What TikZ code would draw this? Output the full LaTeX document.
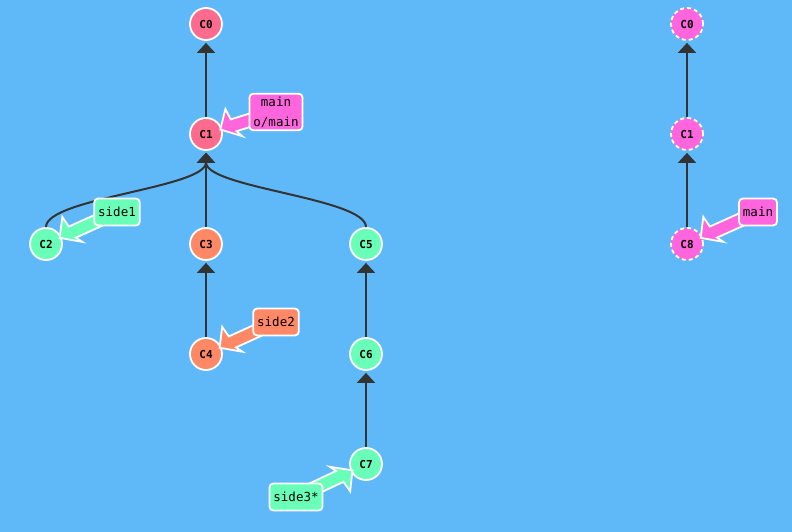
\documentclass[tikz,border=0pt]{standalone}
\usepackage{fontspec}
\setmonofont{DejaVu Sans Mono}
\usetikzlibrary{
  arrows.meta,
  calc,
  backgrounds
}
\definecolor{gitsky}{HTML}{5FB9F9}
\definecolor{gitpink}{HTML}{FF6A8F}
\definecolor{gitmint}{HTML}{6AFFB8}
\definecolor{gitcoral}{HTML}{FF8966}
\definecolor{gitmagenta}{HTML}{FF66DD}
\definecolor{gitdark}{HTML}{333333}
\pgfdeclarelayer{tagarrows}
\pgfdeclarelayer{tags}
\pgfsetlayers{background,main,tagarrows,tags}

% fat arrow from a branch tag (#1) to its commit (#2), colour #3
\newcommand{\tagarrow}[3]{%
  \coordinate (tip) at ($(#2.center)!15pt!(#1.center)$);
  \coordinate (neckl) at ($(tip)!13pt!(#1.center)$);
  \coordinate (neckr) at ($(tip)!15pt!(#1.center)$);
  \coordinate (barbl) at ($(tip)!11pt!(#1.center)$);
  \coordinate (barbr) at ($(tip)!19pt!(#1.center)$);
  \filldraw[fill=#3, draw=white, line width=1.8pt, line join=miter]
    ($(#1.center)!6.5pt!-90:(tip)$) -- ($(neckl)!6.5pt!-90:(tip)$)
    -- ($(barbl)!18pt!-90:(tip)$) -- (tip)
    -- ($(barbr)!13pt!90:(tip)$) -- ($(neckr)!6.5pt!90:(tip)$)
    -- ($(#1.center)!6.5pt!90:(tip)$) -- cycle;
}

\begin{document}
\begin{tikzpicture}[
      x=1pt, y=-1pt,
      commit/.style={
        circle, minimum size=32pt, inner sep=0pt,
        draw=white, line width=1.8pt,
        font=\fontsize{11}{12}\selectfont\ttfamily\bfseries
      },
      ghost/.style={commit, dash pattern=on 4pt off 3pt},
      tag/.style={
        rectangle, rounded corners=4pt,
        draw=white, line width=1.8pt,
        minimum height=27pt, inner xsep=4pt, inner ysep=3pt,
        align=center, font=\fontsize{12.5}{20}\selectfont\ttfamily
      },
      edge/.style={-{Triangle[length=10pt, width=18pt]}, line width=2pt,
        gitdark, shorten >=2pt}
    ]
      \begin{pgfonlayer}{background}
        \fill[gitsky] (0,0) rectangle (792,532);
      \end{pgfonlayer}
      \useasboundingbox (0,0) rectangle (792,532);

      % Commits (left repo)
      \node[commit, fill=gitpink] (c0) at (206,24) {C0};
      \node[commit, fill=gitpink] (c1) at (206,134) {C1};
      \node[commit, fill=gitmint] (c2) at (46,244) {C2};
      \node[commit, fill=gitcoral] (c3) at (206,244) {C3};
      \node[commit, fill=gitmint] (c5) at (366,244) {C5};
      \node[commit, fill=gitcoral] (c4) at (206,354) {C4};
      \node[commit, fill=gitmint] (c6) at (366,354) {C6};
      \node[commit, fill=gitmint] (c7) at (366,464) {C7};

      % Commits (right repo)
      \node[ghost, fill=gitmagenta] (r0) at (687,24) {C0};
      \node[ghost, fill=gitmagenta] (r1) at (687,134) {C1};
      \node[ghost, fill=gitmagenta] (r8) at (687,244) {C8};

      % Parent links
      \draw[edge] (c1) -- (c0);
      \draw[edge] (c2) .. controls +(0,-46) and +(0,54) .. (c1);
      \draw[edge] (c3) -- (c1);
      \draw[edge] (c5) .. controls +(0,-46) and +(0,54) .. (c1);
      \draw[edge] (c4) -- (c3);
      \draw[edge] (c6) -- (c5);
      \draw[edge] (c7) -- (c6);
      \draw[edge] (r1) -- (r0);
      \draw[edge] (r8) -- (r1);

      % Branch tags
      \begin{pgfonlayer}{tags}
        \node[tag, fill=gitmagenta] (tmain) at (276,112) {main\\o/main};
        \node[tag, fill=gitmint] (tside1) at (117,212) {side1};
        \node[tag, fill=gitcoral] (tside2) at (276,322) {side2};
        \node[tag, fill=gitmint] (tside3) at (296,497) {side3*};
        \node[tag, fill=gitmagenta] (tmainr) at (758,212) {main};
      \end{pgfonlayer}

      % Tag arrows
      \begin{pgfonlayer}{tagarrows}
        \tagarrow{tmain}{c1}{gitmagenta}
        \tagarrow{tside1}{c2}{gitmint}
        \tagarrow{tside2}{c4}{gitcoral}
        \tagarrow{tside3}{c7}{gitmint}
        \tagarrow{tmainr}{r8}{gitmagenta}
      \end{pgfonlayer}
    \end{tikzpicture}
\end{document}
